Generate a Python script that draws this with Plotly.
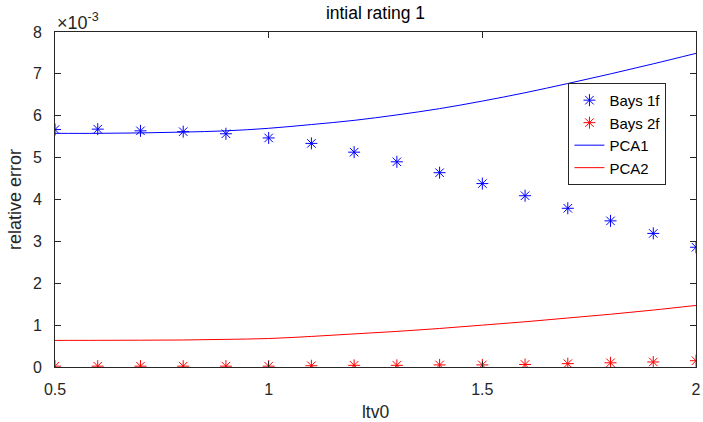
import plotly.graph_objects as go

# x values (ltv0)
ltv0 = [0.5, 0.6, 0.7, 0.8, 0.9, 1.0, 1.1, 1.2, 1.3, 1.4, 1.5, 1.6, 1.7, 1.8, 1.9, 2.0]
# values in units of 1e-3
bays1f = [5.67, 5.68, 5.64, 5.62, 5.57, 5.47, 5.34, 5.13, 4.90, 4.64, 4.38, 4.09, 3.79, 3.49, 3.19, 2.86]
bays2f = [0.02, 0.02, 0.02, 0.02, 0.02, 0.02, 0.03, 0.04, 0.04, 0.05, 0.05, 0.06, 0.08, 0.10, 0.12, 0.15]
pca1 = [5.58, 5.58, 5.59, 5.61, 5.64, 5.70, 5.79, 5.89, 6.02, 6.17, 6.35, 6.55, 6.77, 7.00, 7.24, 7.49]
pca2 = [0.635, 0.637, 0.64, 0.645, 0.66, 0.68, 0.73, 0.79, 0.85, 0.92, 1.00, 1.08, 1.17, 1.26, 1.36, 1.47]

x_ticks = [0.5, 1, 1.5, 2]
x_tick_labels = ["0.5", "1", "1.5", "2"]
y_ticks = [0, 1, 2, 3, 4, 5, 6, 7, 8]
y_tick_labels = ["0", "1", "2", "3", "4", "5", "6", "7", "8"]

FONT = "Liberation Sans, Arial, Helvetica, sans-serif"
AX = "#262626"

fig = go.Figure()
fig.add_trace(go.Scatter(x=ltv0, y=bays1f, mode="markers", name="Bays 1f",
                         marker=dict(symbol="asterisk-open", size=10, color="#0000ff",
                                     line=dict(color="#0000ff", width=1))))
fig.add_trace(go.Scatter(x=ltv0, y=bays2f, mode="markers", name="Bays 2f",
                         marker=dict(symbol="asterisk-open", size=10, color="#ff0000",
                                     line=dict(color="#ff0000", width=1))))
fig.add_trace(go.Scatter(x=ltv0, y=pca1, mode="lines", name="PCA1",
                         line=dict(color="#0000ff", width=1, shape="spline")))
fig.add_trace(go.Scatter(x=ltv0, y=pca2, mode="lines", name="PCA2",
                         line=dict(color="#ff0000", width=1, shape="spline")))

fig.update_layout(
    width=703, height=422,
    margin=dict(l=54.5, r=7.3, t=31.7, b=54.7, autoexpand=False),
    paper_bgcolor="white", plot_bgcolor="white",
    font=dict(family=FONT, size=16, color=AX),
    title=dict(text="intial rating 1", x=0.5, xref="paper", xanchor="center",
               y=1, yref="paper", yanchor="bottom", pad=dict(b=13),
               font=dict(family=FONT, size=17.5, color="#000000")),
    showlegend=True,
    legend=dict(x=0.801, y=0.848, xanchor="left", yanchor="top", xref="paper", yref="paper",
                bgcolor="white", bordercolor=AX, borderwidth=1,
                font=dict(family=FONT, size=15, color="#000000"),
                tracegroupgap=0, itemwidth=30),
)
fig.update_xaxes(range=[0.5, 2], tickvals=x_ticks, ticktext=x_tick_labels, automargin=False,
                 showgrid=False, zeroline=False, showline=True, linecolor=AX, linewidth=1,
                 mirror="ticks", ticks="inside", ticklen=6, tickcolor=AX,
                 ticklabelstandoff=8,
                 tickfont=dict(family=FONT, size=16, color=AX),
                 title=dict(text="ltv0", font=dict(family=FONT, size=17.5, color=AX), standoff=8))
fig.update_yaxes(range=[0, 8], tickvals=y_ticks, ticktext=y_tick_labels, automargin=False,
                 showgrid=False, zeroline=False, showline=True, linecolor=AX, linewidth=1,
                 mirror="ticks", ticks="inside", ticklen=6, tickcolor=AX,
                 ticklabelstandoff=9,
                 tickfont=dict(family=FONT, size=16, color=AX),
                 title=dict(text="relative error", font=dict(family=FONT, size=18, color=AX), standoff=6))
fig.add_annotation(text="×10<sup>-3</sup>", x=0, y=1, xref="paper", yref="paper",
                   xanchor="left", yanchor="bottom", showarrow=False, xshift=0, yshift=-3,
                   font=dict(family=FONT, size=18, color=AX))

fig.write_html("out.html")
